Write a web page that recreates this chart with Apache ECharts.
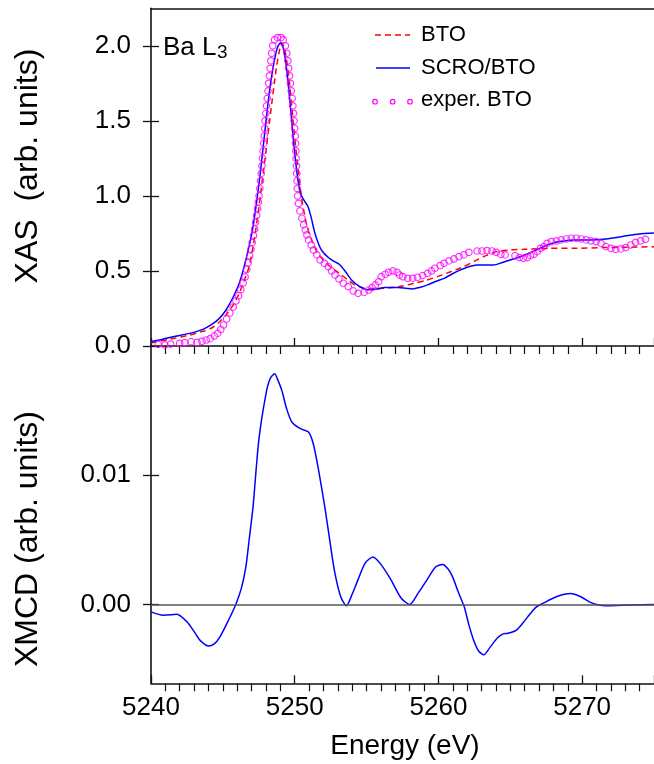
<!DOCTYPE html>
<html>
<head>
<meta charset="utf-8">
<script src="https://cdn.jsdelivr.net/npm/echarts@6/dist/echarts.min.js"></script>
<style>
html,body{margin:0;padding:0;background:#fff;}
#chart{width:654px;height:764px;}
</style>
</head>
<body>
<div id="chart"></div>
<script>
// ---------- data (Energy eV, value) ----------
const xasTicks = [0, 0.5, 1.0, 1.5, 2.0];
const xmcdTicks = [0, 0.01];
const energyTicks = [5240, 5250, 5260, 5270];

const btoCalc = [
  [5240.0,0.022],[5241.3,0.045],[5242.69,0.073],[5243.5,0.095],[5244.18,0.118],[5244.7,0.155],
  [5245.22,0.207],[5245.7,0.27],[5246.14,0.351],[5246.5,0.44],[5246.83,0.529],[5247.06,0.64],
  [5247.29,0.773],[5247.63,1.018],[5247.98,1.284],[5248.32,1.551],[5248.67,1.818],[5248.9,1.951],
  [5249.1,2.02],[5249.31,1.973],[5249.59,1.796],[5249.86,1.529],[5250.16,1.24],[5250.5,0.973],
  [5250.85,0.80],[5251.2,0.70],[5251.66,0.61],[5252.34,0.54],[5253.26,0.473],[5253.7,0.44],
  [5254.19,0.407],[5255.1,0.38],[5255.9,0.383],[5256.71,0.389],[5257.5,0.40],[5258.32,0.418],
  [5259.1,0.437],[5259.93,0.462],[5260.85,0.495],[5261.77,0.529],[5262.5,0.565],[5263.15,0.596],
  [5264.07,0.629],[5265.0,0.64],[5265.91,0.644],[5267.75,0.651],[5269.59,0.651],[5271.43,0.656],
  [5273.26,0.658],[5275.0,0.662]
];

const scroBto = [
  [5240.0,0.029],[5240.8,0.045],[5241.54,0.062],[5242.69,0.084],[5243.61,0.111],[5244.18,0.14],
  [5244.76,0.184],[5245.22,0.24],[5245.68,0.318],[5246.14,0.418],[5246.6,0.573],[5247.06,0.773],
  [5247.4,0.996],[5247.63,1.173],[5247.86,1.373],[5248.09,1.573],[5248.32,1.751],[5248.55,1.884],
  [5248.78,1.984],[5249.01,2.02],[5249.24,1.973],[5249.47,1.818],[5249.7,1.596],[5249.93,1.351],
  [5250.16,1.151],[5250.39,1.018],[5250.62,0.975],[5250.92,0.93],[5251.15,0.855],[5251.38,0.76],
  [5251.66,0.68],[5251.89,0.635],[5252.34,0.59],[5252.8,0.56],[5253.1,0.545],[5253.5,0.50],
  [5253.95,0.44],[5254.53,0.396],[5255.1,0.375],[5255.7,0.38],[5256.25,0.389],[5257.17,0.389],
  [5257.7,0.385],[5258.2,0.38],[5258.7,0.39],[5259.24,0.407],[5259.8,0.43],[5260.39,0.451],
  [5260.95,0.48],[5261.54,0.507],[5262.1,0.528],[5262.69,0.54],[5263.3,0.54],[5263.84,0.54],
  [5264.4,0.555],[5264.99,0.573],[5265.55,0.59],[5266.14,0.611],[5266.7,0.635],[5267.29,0.662],
  [5267.85,0.682],[5268.44,0.696],[5269.36,0.707],[5270.5,0.707],[5271.66,0.713],[5272.8,0.729],
  [5273.95,0.747],[5275.0,0.753]
];

const experBto = [
  [5240.5,0.011],[5240.97,0.007],[5241.36,0.013],[5242.0,0.018],[5242.34,0.022],[5242.8,0.029],
  [5243.2,0.024],[5243.54,0.031],[5243.84,0.04],[5244.12,0.049],[5244.41,0.067],[5244.64,0.084],
  [5244.85,0.11],[5245.05,0.14],[5245.26,0.18],[5245.49,0.22],[5245.72,0.26],[5245.91,0.30],
  [5246.09,0.335],[5246.25,0.375],[5246.41,0.42],[5246.55,0.46],[5246.66,0.51],[5246.76,0.555],
  [5246.86,0.60],[5246.95,0.645],[5247.04,0.69],[5247.13,0.735],[5247.21,0.78],[5247.28,0.825],
  [5247.35,0.87],[5247.41,0.915],[5247.47,0.96],[5247.52,1.0],[5247.57,1.05],[5247.62,1.10],
  [5247.67,1.15],[5247.72,1.2],[5247.76,1.25],[5247.80,1.30],[5247.84,1.35],[5247.88,1.40],
  [5247.91,1.45],[5247.94,1.5],[5247.99,1.55],[5248.04,1.6],[5248.09,1.65],[5248.14,1.7],
  [5248.19,1.75],[5248.24,1.8],[5248.29,1.85],[5248.34,1.9],[5248.40,1.95],[5248.47,2.0],
  [5248.6,2.04],[5248.8,2.055],[5249.05,2.055],[5249.2,2.04],[5249.35,2.0],[5249.45,1.95],
  [5249.52,1.9],[5249.58,1.85],[5249.64,1.8],[5249.70,1.75],[5249.76,1.7],[5249.82,1.65],
  [5249.87,1.6],[5249.92,1.55],[5249.96,1.5],[5250.0,1.45],[5250.03,1.4],[5250.06,1.35],
  [5250.08,1.3],[5250.10,1.25],[5250.12,1.2],[5250.14,1.15],[5250.16,1.10],[5250.18,1.05],
  [5250.20,1.0],[5250.26,0.95],[5250.36,0.90],[5250.50,0.851],[5250.62,0.807],[5250.74,0.773],
  [5250.85,0.74],[5250.97,0.707],[5251.15,0.673],[5251.31,0.64],[5251.54,0.607],[5251.77,0.573],
  [5252.07,0.551],[5252.34,0.529],[5252.57,0.50],[5252.8,0.473],[5253.08,0.447],[5253.38,0.418],
  [5253.72,0.396],[5254.07,0.367],[5254.41,0.351],[5254.83,0.358],[5255.15,0.373],[5255.38,0.389],
  [5255.61,0.407],[5255.84,0.429],[5256.02,0.462],[5256.30,0.478],[5256.53,0.491],[5256.83,0.50],
  [5257.13,0.491],[5257.29,0.473],[5257.52,0.462],[5257.86,0.451],[5258.21,0.451],[5258.55,0.458],
  [5258.9,0.469],[5259.24,0.484],[5259.52,0.50],[5259.75,0.518],[5260.12,0.536],[5260.39,0.551],
  [5260.74,0.567],[5261.08,0.58],[5261.43,0.596],[5261.77,0.607],[5262.12,0.624],[5262.69,0.633],
  [5263.03,0.633],[5263.38,0.636],[5263.72,0.633],[5264.02,0.624],[5264.34,0.611],[5264.64,0.607],
  [5265.33,0.602],[5265.63,0.589],[5265.91,0.584],[5266.18,0.589],[5266.41,0.602],[5266.64,0.611],
  [5266.87,0.629],[5267.1,0.651],[5267.33,0.662],[5267.56,0.684],[5267.86,0.696],[5268.21,0.70],
  [5268.55,0.707],[5268.9,0.713],[5269.24,0.718],[5269.59,0.718],[5269.93,0.713],[5270.28,0.707],
  [5270.62,0.70],[5270.97,0.696],[5271.31,0.684],[5271.66,0.662],[5272.0,0.651],[5272.34,0.644],
  [5272.69,0.647],[5273.03,0.656],[5273.38,0.673],[5273.72,0.691],[5274.07,0.70],[5274.41,0.711]
];

const xmcd = [
  [5240.0,-0.00057],[5240.85,-0.00083],[5241.4,-0.0008],[5241.8,-0.00075],[5242.5,-0.00134],
  [5243.0,-0.0021],[5243.4,-0.00276],[5244.0,-0.00322],[5244.4,-0.00305],[5244.8,-0.0025],
  [5245.4,-0.0012],[5245.9,0.0],[5246.3,0.0013],[5246.6,0.0029],[5246.85,0.0052],[5247.1,0.00755],
  [5247.5,0.0127],[5248.0,0.0163],[5248.3,0.0175],[5248.6,0.01786],[5248.85,0.0173],[5249.1,0.01657],
  [5249.45,0.0151],[5249.8,0.01412],[5250.4,0.0136],[5250.96,0.01335],[5251.3,0.0124],[5251.66,0.0104],
  [5252.1,0.0075],[5252.5,0.0045],[5252.8,0.0024],[5253.2,0.0006],[5253.6,-0.0001],[5254.0,0.0008],
  [5254.4,0.0019],[5254.9,0.0032],[5255.45,0.00368],[5256.0,0.0031],[5256.7,0.0019],[5257.4,0.0005],
  [5258.0,0.0],[5258.6,0.0009],[5259.2,0.0019],[5259.8,0.0029],[5260.3,0.0031],[5260.7,0.0027],
  [5261.0,0.0021],[5261.4,0.0009],[5261.8,-0.0002],[5262.1,-0.0015],[5262.45,-0.00276],[5262.8,-0.0036],
  [5263.15,-0.0039],[5263.6,-0.0033],[5264.1,-0.0026],[5264.5,-0.00228],[5264.8,-0.00224],
  [5265.4,-0.002],[5265.9,-0.0014],[5266.4,-0.0007],[5266.8,-0.0002],[5267.3,0.0001],[5268.2,0.0006],
  [5269.2,0.00085],[5269.9,0.0006],[5270.5,0.0002],[5271.0,0.0],[5271.7,-0.0001],[5273.3,-0.00005],
  [5275.0,0.0]
];

// ---------- styling ----------
const FONT = '"Liberation Sans", Arial, Helvetica, sans-serif';
const AX = '#111';
const chart = echarts.init(document.getElementById('chart'), null, {renderer: 'canvas'});

function xAxisCfg(grid, labels) {
  return {
    type: 'value', gridIndex: grid, min: 5240, max: 5275, interval: 10, position: 'bottom',
    axisLine: {show: true, onZero: false, lineStyle: {color: AX, width: 1.6}},
    axisTick: {show: true, inside: true, length: 8, lineStyle: {color: AX, width: 1.3}},
    minorTick: {show: true, splitNumber: 10, length: -8, lineStyle: {color: AX, width: 1.2}},
    axisLabel: labels ? {show: true, fontSize: 26, fontFamily: FONT, color: '#000', margin: 12,
      customValues: energyTicks, formatter: v => String(v)} : {show: false},
    splitLine: {show: false}
  };
}
function topBorder(grid) {
  return {type: 'value', gridIndex: grid, min: 5240, max: 5275, position: 'top',
    axisLine: {show: true, onZero: false, lineStyle: {color: AX, width: 1.6}},
    axisTick: {show: false}, axisLabel: {show: false}, splitLine: {show: false}};
}
function yAxisCfg(grid, min, max, ticks, digits, labels, inside) {
  return {
    type: 'value', gridIndex: grid, min: min, max: max, position: 'left',
    axisLine: {show: labels, onZero: false, lineStyle: {color: AX, width: 1.6}},
    axisTick: {show: true, inside: inside, length: 8, customValues: ticks, lineStyle: {color: AX, width: 1.3}},
    axisLabel: labels ? {show: true, fontSize: 26, fontFamily: FONT, color: '#000', margin: 20,
      customValues: ticks, formatter: v => Number(v).toFixed(digits)} : {show: false},
    splitLine: {show: false}
  };
}

const option = {
  animation: false,
  backgroundColor: '#fff',
  grid: [
    {left: 151, top: 8.3, width: 507.5, height: 337.7},
    {left: 151, top: 346, width: 507.5, height: 337.3}
  ],
  xAxis: [xAxisCfg(0, false), topBorder(0), xAxisCfg(1, true)],
  yAxis: [
    yAxisCfg(0, 0, 2.25, xasTicks, 1, true, false),
    yAxisCfg(0, 0, 2.25, xasTicks, 1, false, true),
    yAxisCfg(1, -0.0061, 0.02, xmcdTicks, 2, true, false),
    yAxisCfg(1, -0.0061, 0.02, xmcdTicks, 2, false, true)
  ],
  series: [
    {name: 'BTO', type: 'line', xAxisIndex: 0, yAxisIndex: 0, data: btoCalc, showSymbol: false,
      smooth: 0.25, lineStyle: {color: '#ff0000', width: 1.5, type: [6, 4]}, z: 3},
    {name: 'SCRO/BTO', type: 'line', xAxisIndex: 0, yAxisIndex: 0, data: scroBto, showSymbol: false,
      smooth: 0.25, lineStyle: {color: '#0000ff', width: 1.5}, z: 4},
    {name: 'exper. BTO', type: 'scatter', xAxisIndex: 0, yAxisIndex: 0, data: experBto,
      symbol: 'circle', symbolSize: 6.5,
      itemStyle: {color: 'rgba(0,0,0,0)', borderColor: '#ff00ff', borderWidth: 1.2}, z: 5},
    {name: 'XMCD', type: 'line', xAxisIndex: 2, yAxisIndex: 2, data: xmcd, showSymbol: false,
      smooth: 0.25, lineStyle: {color: '#0000ff', width: 1.5}, z: 4,
      markLine: {silent: true, symbol: 'none', label: {show: false},
        lineStyle: {color: '#555', width: 1.5, type: 'solid'}, data: [{yAxis: 0}]}}
  ],
  graphic: [
    {type: 'text', x: 28, y: 166, rotation: Math.PI / 2, z: 100,
      style: {text: 'XAS  (arb. units)', font: '32px ' + FONT, fill: '#000', align: 'center', verticalAlign: 'middle'}},
    {type: 'text', x: 28, y: 539, rotation: Math.PI / 2, z: 100,
      style: {text: 'XMCD (arb. units)', font: '32px ' + FONT, fill: '#000', align: 'center', verticalAlign: 'middle'}},
    {type: 'text', x: 405, y: 746, z: 100,
      style: {text: 'Energy (eV)', font: '28px ' + FONT, fill: '#000', align: 'center', verticalAlign: 'middle'}},
    {type: 'text', x: 163, y: 35, z: 100,
      style: {text: 'Ba L', font: '26px ' + FONT, fill: '#000', align: 'left', verticalAlign: 'alphabetic'}},
    {type: 'text', x: 217, y: 43.5, z: 100,
      style: {text: '3', font: '19px ' + FONT, fill: '#000', align: 'left', verticalAlign: 'alphabetic'}},
    // legend
    {type: 'line', z: 100, shape: {x1: 375, y1: 35, x2: 410, y2: 35},
      style: {stroke: '#ff0000', lineWidth: 1.5, lineDash: [6, 4]}},
    {type: 'text', x: 421, y: 35, z: 100,
      style: {text: 'BTO', font: '22px ' + FONT, fill: '#000', align: 'left', verticalAlign: 'middle'}},
    {type: 'line', z: 100, shape: {x1: 376, y1: 68, x2: 410, y2: 68},
      style: {stroke: '#0000ff', lineWidth: 1.5}},
    {type: 'text', x: 421, y: 68, z: 100,
      style: {text: 'SCRO/BTO', font: '22px ' + FONT, fill: '#000', align: 'left', verticalAlign: 'middle'}},
    {type: 'circle', z: 100, shape: {cx: 375, cy: 101.7, r: 2.3}, style: {fill: 'none', stroke: '#ff00ff', lineWidth: 1.2}},
    {type: 'circle', z: 100, shape: {cx: 392.7, cy: 101.7, r: 2.3}, style: {fill: 'none', stroke: '#ff00ff', lineWidth: 1.2}},
    {type: 'circle', z: 100, shape: {cx: 410, cy: 101.7, r: 2.3}, style: {fill: 'none', stroke: '#ff00ff', lineWidth: 1.2}},
    {type: 'text', x: 421, y: 100, z: 100,
      style: {text: 'exper. BTO', font: '22px ' + FONT, fill: '#000', align: 'left', verticalAlign: 'middle'}}
  ]
};
chart.setOption(option);
</script>
</body>
</html>
